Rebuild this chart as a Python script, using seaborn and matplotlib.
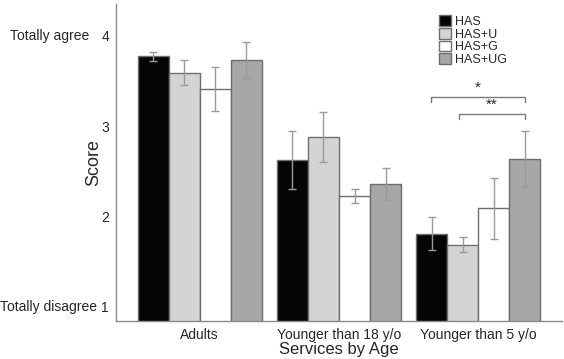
import matplotlib
matplotlib.use('Agg')
import matplotlib.pyplot as plt
import numpy as np
import pandas as pd
import seaborn as sns

# Data
groups = ['Adults', 'Younger than 18 y/o', 'Younger than 5 y/o']
services = ['HAS', 'HAS+U', 'HAS+G', 'HAS+UG']
scores = {
    'HAS':    [3.77, 2.63, 1.81],
    'HAS+U':  [3.59, 2.88, 1.69],
    'HAS+G':  [3.41, 2.23, 2.09],
    'HAS+UG': [3.73, 2.36, 2.64],
}
errors = {
    'HAS':    [0.05, 0.32, 0.18],
    'HAS+U':  [0.14, 0.28, 0.08],
    'HAS+G':  [0.24, 0.08, 0.34],
    'HAS+UG': [0.20, 0.18, 0.31],
}
colors = ['#050505', '#d3d5d4', '#ffffff', '#a7a7a7']

rows = []
for s in services:
    for g, v, e in zip(groups, scores[s], errors[s]):
        rows.append({'group': g, 'service': s, 'score': v, 'err': e})
df = pd.DataFrame(rows)

sns.set_style('white')
plt.rcParams['font.family'] = ['Liberation Sans', 'DejaVu Sans']

fig = plt.figure(figsize=(5.64, 3.59), dpi=100)
ax = fig.add_axes([116 / 564, 1 - 321 / 359, 446 / 564, 317 / 359])

sns.barplot(data=df, x='group', y='score', hue='service', order=groups,
            hue_order=services, palette=colors, width=0.89, errorbar=None,
            edgecolor='#6e6e6e', linewidth=1.0, ax=ax)

# error bars at bar centres
for i, s in enumerate(services):
    container = ax.containers[i]
    xs = [p.get_x() + p.get_width() / 2 for p in container.patches]
    ax.errorbar(xs, scores[s], yerr=errors[s], fmt='none', ecolor='#9a9a9a',
                elinewidth=1.0, capsize=3, capthick=1.0, zorder=5)

ax.set_ylim(0.845, 4.35)
ax.set_xlim(-0.6, 2.6)
ax.set_yticks([1, 2, 3, 4])
ax.tick_params(axis='y', length=3, color='#888888', labelsize=10, pad=2)
ax.tick_params(axis='x', length=0, labelsize=10, pad=5)
for side in ['top', 'right']:
    ax.spines[side].set_visible(False)
for side in ['left', 'bottom']:
    ax.spines[side].set_color('#8a8a8a')
    ax.spines[side].set_linewidth(1.0)

ax.set_xlabel('Services by Age', fontsize=12, labelpad=0)
ax.set_ylabel('Score', fontsize=13, labelpad=-1)

# agreement annotations (left of the y tick labels)
blend = matplotlib.transforms.blended_transform_factory(fig.transFigure, ax.transData)
ax.text(50 / 564, 4, 'Totally agree', transform=blend,
        ha='center', va='center', fontsize=10)
ax.text(49 / 564, 1, 'Totally disagree', transform=blend,
        ha='center', va='center', fontsize=10)

# significance brackets
def bracket(x1, x2, y, label):
    ax.plot([x1, x1, x2, x2], [y - 0.05, y, y, y - 0.05], color='#7a7a7a', lw=1.0)
    ax.text((x1 + x2) / 2, y + 0.03, label, ha='center', va='bottom', fontsize=11)

c = [[p.get_x() + p.get_width() / 2 for p in cont.patches] for cont in ax.containers[:4]]
bracket(c[0][2] - 0.005, c[3][2], 3.32, '*')
bracket(c[1][2] - 0.03, c[3][2], 3.13, '**')

leg = ax.legend(title=None, loc='upper left', bbox_to_anchor=(0.70, 1.0),
                frameon=False, fontsize=9, handlelength=0.95, handleheight=0.95,
                handletextpad=0.3, labelspacing=0.0, borderaxespad=0.5)

fig.savefig('out.png', dpi=100)
